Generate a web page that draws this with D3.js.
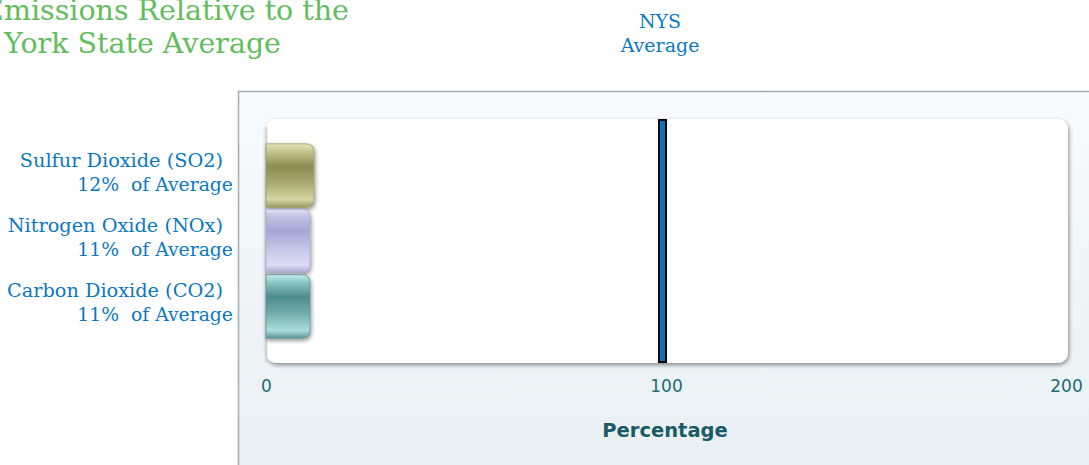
<!DOCTYPE html>
<html><head><meta charset="utf-8">
<script src="https://cdn.jsdelivr.net/npm/d3@7"></script>
<style>
html,body{margin:0;padding:0;background:#fff;overflow:hidden}
svg{display:block}
</style></head>
<body>
<script>
const categories = ["Sulfur Dioxide (SO2)", "Nitrogen Oxide (NOx)", "Carbon Dioxide (CO2)"];
const values = [12, 11, 11];
const percentLabels = ["12%  of Average", "11%  of Average", "11%  of Average"];
const xTicks = [0, 100, 200];
const referenceValue = 100;
const titleLines = ["Emissions Relative to the", "New York State Average"];
const refLabelLines = ["NYS", "Average"];
const axisTitle = "Percentage";

const W = 1089, H = 465;
const svg = d3.select("body").append("svg").attr("width", W).attr("height", H);
const defs = svg.append("defs");

const pg = defs.append("linearGradient").attr("id","panelGrad").attr("x1",0).attr("y1",0).attr("x2",0).attr("y2",1);
pg.append("stop").attr("offset","0%").attr("stop-color","#f8fbfd");
pg.append("stop").attr("offset","100%").attr("stop-color","#e4edf0");

const sh = defs.append("filter").attr("id","shadow").attr("x","-10%").attr("y","-10%").attr("width","130%").attr("height","130%");
sh.append("feGaussianBlur").attr("in","SourceAlpha").attr("stdDeviation",2.2).attr("result","b");
sh.append("feOffset").attr("in","b").attr("dx",1).attr("dy",2).attr("result","o");
sh.append("feComponentTransfer").attr("in","o").attr("result","o2").append("feFuncA").attr("type","linear").attr("slope",0.45);
const fm = sh.append("feMerge");
fm.append("feMergeNode").attr("in","o2");
fm.append("feMergeNode").attr("in","SourceGraphic");

const barColors = [
  ["#e4e4bc","#c6c690","#8c8c52","#a8a870","#d4d4a4","#9a9a64"],
  ["#e4e4f6","#c0c0e2","#a6a6d2","#c4c4e8","#dcdcf6","#a8a8cc"],
  ["#c4ecea","#8cc6c4","#4c8c8a","#72acaa","#a8dcda","#5a9494"]
];
const stopOffs = [0, 0.12, 0.35, 0.6, 0.88, 1];
barColors.forEach((cols,i)=>{
  const g = defs.append("linearGradient").attr("id","bar"+i).attr("x1",0).attr("y1",0).attr("x2",0).attr("y2",1);
  cols.forEach((c,j)=>g.append("stop").attr("offset",stopOffs[j]).attr("stop-color",c));
});

svg.append("rect").attr("x",238.5).attr("y",91.5).attr("width",W).attr("height",H)
  .attr("fill","url(#panelGrad)").attr("stroke","#a3adb5").attr("stroke-width",1.5);

const plot = {x0:266, x1:1068, y0:119, y1:363};
const x = d3.scaleLinear().domain([0,200]).range([266,1066]);
const y = d3.scaleBand().domain(categories).range([plot.y0, plot.y1]).paddingInner(0.03).paddingOuter(0.38);

svg.append("rect").attr("x",plot.x0).attr("y",plot.y0).attr("width",plot.x1-plot.x0).attr("height",plot.y1-plot.y0)
  .attr("rx",10).attr("fill","#fff").attr("filter","url(#shadow)");
svg.append("line").attr("x1",plot.x0+0.5).attr("x2",plot.x0+0.5).attr("y1",plot.y0+8).attr("y2",plot.y1)
  .attr("stroke","#c9cfd3").attr("stroke-width",1.5);

function barPath(x0,x1,y0,h,r){
  return `M${x0},${y0} H${x1-r} Q${x1},${y0} ${x1},${y0+r} V${y0+h-r} Q${x1},${y0+h} ${x1-r},${y0+h} H${x0} Z`;
}
svg.append("g").selectAll("path").data(categories).join("path")
  .attr("d",(d,i)=>barPath(x(0), x(values[i]), y(d), y.bandwidth(), 8))
  .attr("fill",(d,i)=>`url(#bar${i})`)
  .attr("stroke",(d,i)=>barColors[i][5]).attr("stroke-width",0.8)
  .attr("filter","url(#shadow)");

svg.append("rect").attr("x",x(referenceValue)-7).attr("y",plot.y0+1).attr("width",7).attr("height",plot.y1-plot.y0-2)
  .attr("fill","#0a74bd").attr("stroke","#000").attr("stroke-width",2);

const axis = svg.append("g").attr("transform",`translate(0,${plot.y1})`)
  .call(d3.axisBottom(x).tickValues(xTicks).tickSize(0).tickPadding(0).tickFormat(d3.format("d")));
axis.select(".domain").remove();
axis.selectAll("text").attr("font-family","DejaVu Sans, Verdana, sans-serif").attr("font-size",17)
  .attr("fill","#1f6a75").attr("y",29).attr("dy",0);

svg.append("text").attr("x",x(100)-1).attr("y",437).attr("text-anchor","middle")
  .attr("font-family","DejaVu Sans, Verdana, sans-serif").attr("font-weight","bold").attr("font-size",19.5)
  .attr("fill","#1a5a66").text(axisTitle);

const serif = "DejaVu Serif, Liberation Serif, serif";
const lab = svg.append("g").attr("font-family",serif).attr("fill","#0b78c2").attr("text-anchor","end");
categories.forEach((c,i)=>{
  const cy = y(c)+y.bandwidth()/2;
  lab.append("text").attr("x",223).attr("y",cy-9).attr("font-size",19.3).text(c);
  lab.append("text").attr("x",233).attr("y",cy+15).attr("font-size",18.8).style("white-space","pre").text(percentLabels[i]);
});

svg.append("g").attr("font-family",serif).attr("font-size",19).attr("fill","#0b78c2").attr("text-anchor","middle")
  .selectAll("text").data(refLabelLines).join("text")
  .attr("x",x(referenceValue)-6).attr("y",(d,i)=>28+i*24).text(d=>d);

svg.append("g").attr("font-family",serif).attr("font-size",28.5).attr("fill","#62bd5c").attr("text-anchor","end")
  .selectAll("text").data(titleLines).join("text")
  .attr("x",(d,i)=>i===0?349:281).attr("y",(d,i)=>20+i*33).text(d=>d);
</script>
</body></html>
